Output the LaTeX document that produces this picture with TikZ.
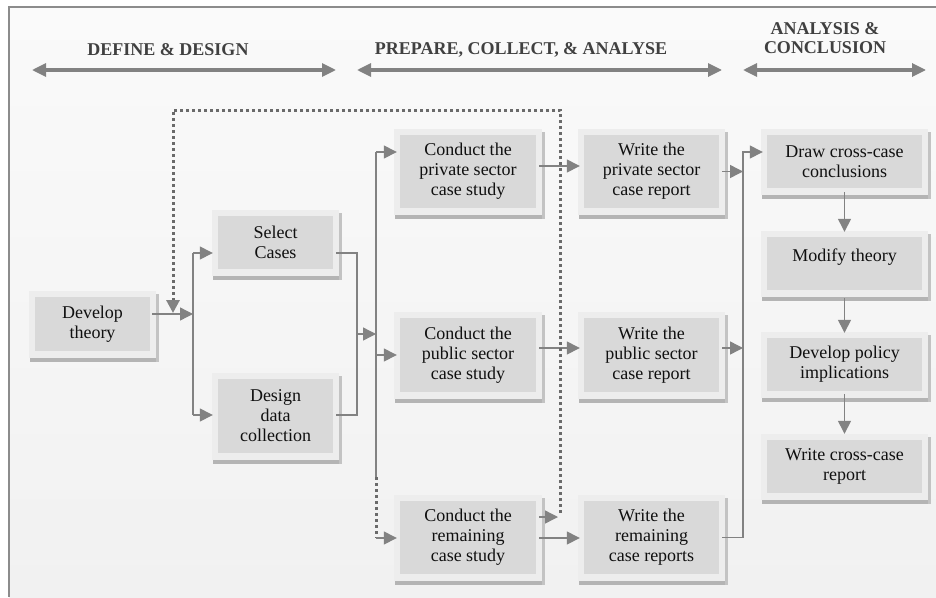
\documentclass[tikz,border=0pt]{standalone}
\usepackage{fontspec}
\setmainfont{Liberation Serif}
\usetikzlibrary{arrows.meta,calc}
\definecolor{framec}{HTML}{8C8C8C}
\definecolor{bgtop}{HTML}{FAFAFA}
\definecolor{bgbot}{HTML}{F1F1F1}
\definecolor{panelc}{HTML}{EDEDED}
\definecolor{innerc}{HTML}{D9D9D9}
\definecolor{shadowc}{HTML}{B4B4B4}
\definecolor{linec}{HTML}{828282}
\definecolor{dotc}{HTML}{6A6A6A}
\definecolor{headc}{HTML}{404040}
\definecolor{textc}{HTML}{101010}
\tikzset{
 boxnode/.style={fill=innerc, inner sep=0pt, align=center, text=textc, font=\fontsize{18}{20}\selectfont},
 conn/.style={draw=linec, line width=1.4pt},
 arr/.style={conn, -{Triangle[length=13pt,width=13pt]}},
 dotl/.style={draw=dotc, line width=3pt, dash pattern=on 3pt off 3pt},
 dotarr/.style={dotl, -{Triangle[length=13pt,width=13pt,color=linec]}},
 harr/.style={draw=linec, line width=3.2pt, {Triangle[length=14pt,width=13pt]}-{Triangle[length=14pt,width=13pt]}},
 head/.style={text=headc, font=\fontsize{18}{19}\selectfont\bfseries, align=center, inner sep=0pt},
}
\newcommand\cbox[6]{%
 \fill[shadowc] ({#2-5},{#5+7}) rectangle ({#4+9},{#5+11});
 \fill[shadowc!80!white] ({#4+6},{#3-3}) rectangle ({#4+9},{#5+11});
 \fill[panelc] ({#2-6},{#3-6}) rectangle ({#4+6},{#5+7});
 \node[boxnode, minimum width={#4-#2}, minimum height={#5-#3}] (#1) at ({(#2+#4)/2},{(#3+#5)/2}) {#6};
}
\begin{document}
\begin{tikzpicture}[x=1pt,y=-1pt]
\useasboundingbox (0,0) rectangle (936,597);
% background and frame
\shade[top color=bgtop, bottom color=bgbot] (9,7) rectangle (936,597);
\draw[framec, line width=2pt] (9,597) -- (9,7) -- (936,7);

% headers
\node[head] (h1) at (168,50) {DEFINE \& DESIGN};
\node[head] (h2) at (521,50) {PREPARE, COLLECT, \& ANALYSE};
\node[head] (h3) at (825,38) {ANALYSIS \&\\CONCLUSION};
\coordinate (a1l) at (32,70);  \coordinate (a1r) at (336,70);
\coordinate (a2l) at (357,70); \coordinate (a2r) at (722,70);
\coordinate (a3l) at (743,70); \coordinate (a3r) at (926,70);
\draw[harr] (a1l) -- (a1r);
\draw[harr] (a2l) -- (a2r);
\draw[harr] (a3l) -- (a3r);

% boxes
\cbox{dev}{35}{297}{150}{351}{Develop\\theory}
\cbox{sel}{218}{216}{333}{269}{Select\\Cases}
\cbox{des}{218}{379}{333}{453}{Design\\data\\collection}
\cbox{cpriv}{400}{135}{536}{208}{Conduct the\\private sector\\case study}
\cbox{cpub}{400}{318}{536}{392}{Conduct the\\public sector\\case study}
\cbox{crem}{400}{501}{536}{574}{Conduct the\\remaining\\case study}
\cbox{wpriv}{584}{135}{719}{208}{Write the\\private sector\\case report}
\cbox{wpub}{584}{318}{719}{392}{Write the\\public sector\\case report}
\cbox{wrem}{584}{501}{719}{574}{Write the\\remaining\\case reports}
\cbox{dcc}{767}{135}{922}{188}{Draw cross-case\\conclusions}
\cbox{mod}{767}{237}{922}{290}{\raisebox{6pt}[\height][\depth]{Modify theory}}
\cbox{pol}{767}{338}{922}{391}{Develop policy\\implications}
\cbox{wcr}{767}{440}{922}{493}{Write cross-case\\report}

% junction coordinates
\coordinate (j1) at (193,314);
\coordinate (j1t) at (193,253);
\coordinate (j1b) at (193,415);
\coordinate (j2t) at (357,253);
\coordinate (j2b) at (357,415);
\coordinate (j2m) at (357,334);
\coordinate (j3m) at (376,334);
\coordinate (j3t) at (376,152);
\coordinate (j3d) at (376,477);
\coordinate (j3b) at (376,538);
\coordinate (j4t) at (743,152);
\coordinate (dA) at (560,513);
\coordinate (dB) at (560,110);
\coordinate (dC) at (173,110);
\coordinate (dD) at (173,313);
\coordinate (dE) at (558,517);

% define & design connectors
\draw[arr] ($(dev.east |- j1)+(2,0)$) -- (j1);
\draw[conn] (j1t) -- (j1b);
\draw[arr] (j1t) -- ($(sel.west |- j1t)+(-5,0)$);
\draw[arr] (j1b) -- ($(des.west |- j1b)+(-5,0)$);
\draw[conn] ($(sel.east |- j2t)+(3,0)$) -- (j2t) -- (j2b) -- ($(des.east |- j2b)+(3,0)$);
\draw[arr] (j2m) -- (j3m);

% distribution to case studies
\draw[conn] (j3t) -- (j3d);
\draw[dotl] (j3d) -- (j3b);
\draw[arr] (j3t) -- ($(cpriv.west |- j3t)+(-3,0)$);
\draw[arr] (j3t |- cpub.west) -- ($(cpub.west)+(-3,0)$);
\draw[arr] (j3b) -- ($(crem.west |- j3b)+(-3,0)$);

% case studies to reports
\draw[arr] ($(cpriv.east)+(3,-5.5)$) -- ($(wpriv.west)+(-4,-5.5)$);
\draw[arr] ($(cpub.east)+(3,-7)$) -- ($(wpub.west)+(-4,-7)$);
\draw[arr] ($(crem.east)+(3,0.5)$) -- ($(wrem.west)+(-4,0.5)$);
\draw[arr] ($(crem.east |- dE)+(3,0)$) -- (dE);

% dotted feedback loop
\draw[dotarr] (dA) -- (dB) -- (dC) -- (dD);

% reports to cross-case
\draw[arr] ($(wpriv.east)+(3,0)$) -- (wpriv.east -| j4t);
\draw[arr] ($(wpub.east)+(3,-7)$) -- ($(wpub.east -| j4t)+(0,-7)$);
\draw[arr] ($(wrem.east)+(3,0)$) -- (wrem.east -| j4t) -- (j4t) -- ($(dcc.west |- j4t)+(-4,0)$);

% analysis column
\draw[arr] ($(dcc.south)+(0,4)$) -- ($(mod.north)+(0,-5)$);
\draw[arr] ($(mod.south)+(0,8)$) -- ($(pol.north)+(0,-5)$);
\draw[arr] ($(pol.south)+(0,3)$) -- ($(wcr.north)+(0,-6)$);
\end{tikzpicture}
\end{document}
